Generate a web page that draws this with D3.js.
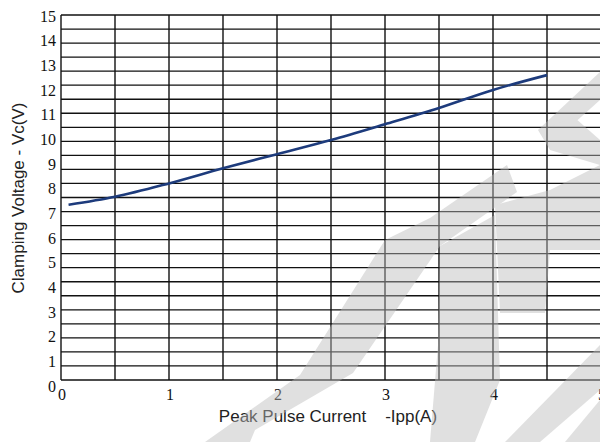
<!DOCTYPE html>
<html>
<head>
<meta charset="utf-8">
<script src="https://cdn.jsdelivr.net/npm/d3@7"></script>
<style>
body { margin: 0; background: #fff; }
svg { display: block; }
.num { font-family: 'Liberation Serif', 'Times New Roman', serif; font-size: 16px; fill: #111; }
.title { font-family: 'Liberation Sans', Arial, sans-serif; font-size: 17px; fill: #222; white-space: pre; }
</style>
</head>
<body>
<svg id="chart" width="600" height="442"></svg>
<script>
// values
let current = [0.07, 0.5, 1, 1.5, 2, 2.5, 3, 3.5, 4, 4.5];
let voltage = [7.2, 7.53, 8.08, 8.7, 9.28, 9.86, 10.51, 11.18, 11.92, 12.53];

let xTicks = [0, 1, 2, 3, 4, 5];
let yTicks = d3.range(0, 16);
let xTitle = "Peak Pulse Current    -Ipp(A)";
let yTitle = "Clamping Voltage - Vc(V)";

let svg = d3.select("#chart");

let x = d3.scaleLinear().domain([0, 5]).range([61, 601]);
let y = d3.scaleLinear().domain([0, 15]).range([380, 15]);
// the printed labels sit a little lower than the grid
let yLabel = d3.scaleLinear().domain([0, 15]).range([386, 16]);

function drawGrid() {
    // vertical lines every 0.5 A
    svg.append("g").selectAll("line")
        .data(d3.range(0, 5.01, 0.5))
        .join("line")
        .attr("x1", d => x(d)).attr("x2", d => x(d))
        .attr("y1", y(15)).attr("y2", y(0))
        .attr("stroke", "#111").attr("stroke-width", 1.4);

    // the original sheet has 26 horizontal bands over the 0..15 range
    svg.append("g").selectAll("line")
        .data(d3.range(0, 27).map(i => i * 15 / 26))
        .join("line")
        .attr("x1", x(0)).attr("x2", x(5))
        .attr("y1", d => y(d)).attr("y2", d => y(d))
        .attr("stroke", "#111").attr("stroke-width", 1.3);
}

function drawLabels() {
    svg.append("g").selectAll("text")
        .data(yTicks)
        .join("text")
        .attr("class", "num")
        .attr("x", 56)
        .attr("y", d => yLabel(d))
        .attr("dy", "0.35em")
        .attr("text-anchor", "end")
        .text(d => d);

    svg.append("g").selectAll("text")
        .data(xTicks)
        .join("text")
        .attr("class", "num")
        .attr("x", d => x(d) + 1)
        .attr("y", 400)
        .attr("text-anchor", "middle")
        .text(d => d);

    svg.append("text")
        .attr("class", "title")
        .attr("x", 328).attr("y", 422)
        .attr("text-anchor", "middle")
        .text(xTitle);

    svg.append("text")
        .attr("class", "title")
        .attr("transform", "translate(24,198) rotate(-90)")
        .attr("text-anchor", "middle")
        .text(yTitle);
}

function drawCurve() {
    let line = d3.line()
        .x((d, i) => x(current[i]))
        .y(d => y(d))
        .curve(d3.curveMonotoneX);

    svg.append("path")
        .datum(voltage)
        .attr("d", line)
        .attr("fill", "none")
        .attr("stroke", "#1d3b7c")
        .attr("stroke-width", 2.6);
}

// rough copy of the light grey logo stamped over the lower right corner
function drawWatermark() {
    let shapes = [
        [[205, 442], [300, 375], [385, 240], [430, 218], [507, 165], [517, 192],
         [440, 246], [353, 373], [255, 430], [250, 442]],
        [[440, 246], [495, 215], [500, 380], [475, 442], [430, 442], [438, 345]],
        [[495, 205], [550, 190], [600, 165], [600, 250], [550, 250], [545, 313], [500, 313]],
        [[505, 442], [540, 442], [600, 390], [600, 345]],
        [[565, 442], [600, 442], [600, 400]],
        [[538, 130], [600, 72], [600, 100], [562, 134]],
        [[538, 130], [575, 118], [600, 140], [600, 165], [550, 150]]
    ];
    svg.append("g")
        .attr("opacity", 0.45)
        .selectAll("path")
        .data(shapes)
        .join("path")
        .attr("d", d => "M" + d.join("L") + "Z")
        .attr("fill", "#bbbbbb");
}

drawGrid();
drawCurve();
drawLabels();
drawWatermark();
</script>
</body>
</html>
